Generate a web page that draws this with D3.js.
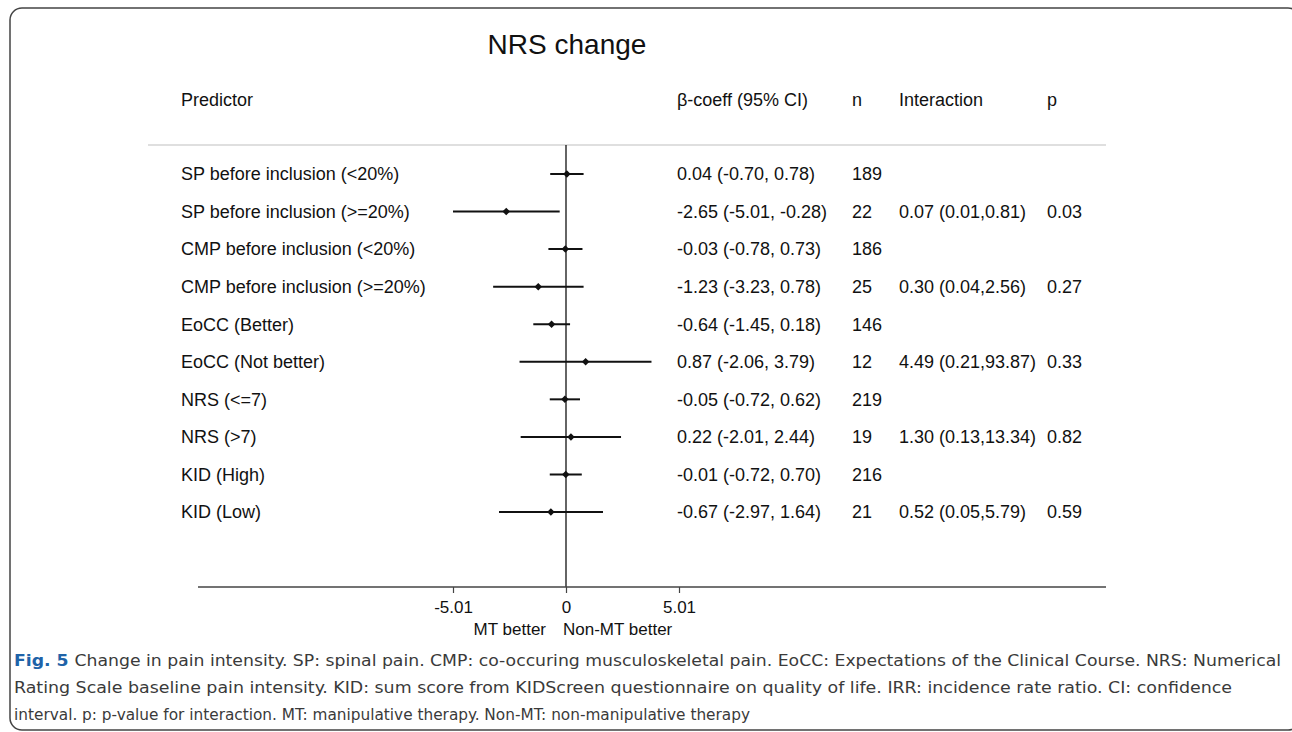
<!DOCTYPE html>
<html>
<head>
<meta charset="utf-8">
<script src="https://cdn.jsdelivr.net/npm/d3@7"></script>
<style>
  body { margin: 0; background: #fff; overflow: hidden; }
  text { font-family: "Liberation Sans", Arial, sans-serif; }
</style>
</head>
<body>
<div id="canvas"></div>
<script>
"use strict";

// Data
const predictors = [
  "SP before inclusion (<20%)", "SP before inclusion (>=20%)",
  "CMP before inclusion (<20%)", "CMP before inclusion (>=20%)",
  "EoCC (Better)", "EoCC (Not better)",
  "NRS (<=7)", "NRS (>7)",
  "KID (High)", "KID (Low)"
];
const beta  = [0.04, -2.65, -0.03, -1.23, -0.64, 0.87, -0.05, 0.22, -0.01, -0.67];
const lower = [-0.70, -5.01, -0.78, -3.23, -1.45, -2.06, -0.72, -2.01, -0.72, -2.97];
const upper = [0.78, -0.28, 0.73, 0.78, 0.18, 3.79, 0.62, 2.44, 0.70, 1.64];
const nObs  = [189, 22, 186, 25, 146, 12, 219, 19, 216, 21];
const irr      = [null, 0.07, null, 0.30, null, 4.49, null, 1.30, null, 0.52];
const irrLower = [null, 0.01, null, 0.04, null, 0.21, null, 0.13, null, 0.05];
const irrUpper = [null, 0.81, null, 2.56, null, 93.87, null, 13.34, null, 5.79];
const pValues  = [null, 0.03, null, 0.27, null, 0.33, null, 0.82, null, 0.59];
const tickValues = [-5.01, 0, 5.01];

const captionLines = [
  "Change in pain intensity. SP: spinal pain. CMP: co-occuring musculoskeletal pain. EoCC: Expectations of the Clinical Course. NRS: Numerical",
  "Rating Scale baseline pain intensity. KID: sum score from KIDScreen questionnaire on quality of life. IRR: incidence rate ratio. CI: confidence",
  "interval. p: p-value for interaction. MT: manipulative therapy. Non-MT: non-manipulative therapy"
];

const rows = predictors.map((p, i) => ({
  label: p, beta: beta[i], lo: lower[i], hi: upper[i], n: nObs[i],
  irr: irr[i], irrLo: irrLower[i], irrHi: irrUpper[i], p: pValues[i]
}));

const W = 1292, H = 732;
const fs = 18;
const svg = d3.select("#canvas").append("svg")
  .attr("width", W).attr("height", H)
  .style("display", "block");

// Frame (right edge falls outside the picture)
svg.append("rect")
  .attr("x", 10).attr("y", 8)
  .attr("width", 1290).attr("height", 722)
  .attr("rx", 12)
  .attr("fill", "none")
  .attr("stroke", "#444")
  .attr("stroke-width", 1.5);

// Scales
const x = d3.scaleLinear().domain([-5.01, 5.01]).range([453, 679]);
const y = d3.scalePoint().domain(predictors).range([174, 512]);

const axisLeft = 198, axisRight = 1106, axisY = 587, headerLineY = 145;
const f2 = v => v.toFixed(2);

// Title
svg.append("text")
  .attr("x", 567).attr("y", 54)
  .attr("text-anchor", "middle")
  .attr("font-size", 28)
  .attr("fill", "#111")
  .text("NRS change");

// Column headers
const cols = { label: 181, beta: 677, n: 852, inter: 899, p: 1047 };
const headers = [
  [cols.label, "Predictor"], [cols.beta, "β-coeff (95% CI)"],
  [cols.n, "n"], [cols.inter, "Interaction"], [cols.p, "p"]
];
svg.selectAll("text.header").data(headers).enter().append("text")
  .attr("class", "header")
  .attr("x", d => d[0]).attr("y", 100)
  .attr("dy", "0.35em")
  .attr("font-size", fs)
  .attr("fill", "#111")
  .text(d => d[1]);

// Header separator
svg.append("line")
  .attr("x1", 148).attr("x2", axisRight)
  .attr("y1", headerLineY).attr("y2", headerLineY)
  .attr("stroke", "#d4d4d4").attr("stroke-width", 1.5);

// Zero line
svg.append("line")
  .attr("x1", x(0)).attr("x2", x(0))
  .attr("y1", headerLineY).attr("y2", axisY)
  .attr("stroke", "#111").attr("stroke-width", 1.3);

// Axis
const axis = d3.axisBottom(x)
  .tickValues(tickValues)
  .tickFormat(d => d === 0 ? "0" : f2(d))
  .tickSize(6).tickSizeOuter(0);
const gAxis = svg.append("g")
  .attr("transform", `translate(0,${axisY})`)
  .call(axis);
gAxis.select(".domain").remove();
gAxis.selectAll(".tick line").attr("stroke", "#444").attr("stroke-width", 1.2);
gAxis.selectAll(".tick text")
  .attr("font-size", 17)
  .attr("fill", "#111")
  .attr("font-family", "Liberation Sans, Arial, sans-serif")
  .attr("y", 14);
svg.append("line")
  .attr("x1", axisLeft).attr("x2", axisRight)
  .attr("y1", axisY).attr("y2", axisY)
  .attr("stroke", "#444").attr("stroke-width", 1.5);

svg.append("text")
  .attr("x", x(0) - 20).attr("y", 635)
  .attr("text-anchor", "end").attr("font-size", 17).attr("fill", "#111")
  .text("MT better");
svg.append("text")
  .attr("x", x(0) - 3).attr("y", 635)
  .attr("font-size", 17).attr("fill", "#111")
  .text("Non-MT better");

// Rows
const g = svg.selectAll("g.row").data(rows).enter().append("g")
  .attr("class", "row")
  .attr("transform", d => `translate(0,${y(d.label)})`);

g.append("line")
  .attr("x1", d => x(d.lo)).attr("x2", d => x(d.hi))
  .attr("stroke", "#111").attr("stroke-width", 2);

g.append("path")
  .attr("d", d3.symbol(d3.symbolDiamond2, 36))
  .attr("transform", d => `translate(${x(d.beta)},0)`)
  .attr("fill", "#111");

const cell = (xPos, fn) => g.append("text")
  .attr("x", xPos).attr("dy", "0.35em")
  .attr("font-size", fs).attr("fill", "#111")
  .text(fn);

cell(cols.label, d => d.label);
cell(cols.beta, d => `${f2(d.beta)} (${f2(d.lo)}, ${f2(d.hi)})`);
cell(cols.n, d => d.n);
cell(cols.inter, d => d.irr === null ? "" : `${f2(d.irr)} (${f2(d.irrLo)},${f2(d.irrHi)})`);
cell(cols.p, d => d.p === null ? "" : f2(d.p));

// Caption
const capWidths = [1267, 1218, 736];
captionLines.forEach((line, i) => {
  const t = svg.append("text")
    .attr("x", 14).attr("y", 666 + i * 27)
    .attr("font-size", 16)
    .attr("fill", "#3a3a3a")
    .style("font-family", "'DejaVu Sans Condensed', 'Liberation Sans Narrow', sans-serif");
  if (i === 0) {
    t.append("tspan").attr("fill", "#1f63a8").attr("font-weight", "bold").text("Fig. 5 ");
  }
  t.append("tspan").text(line);
  t.attr("textLength", capWidths[i]).attr("lengthAdjust", "spacingAndGlyphs");
});
</script>
</body>
</html>
